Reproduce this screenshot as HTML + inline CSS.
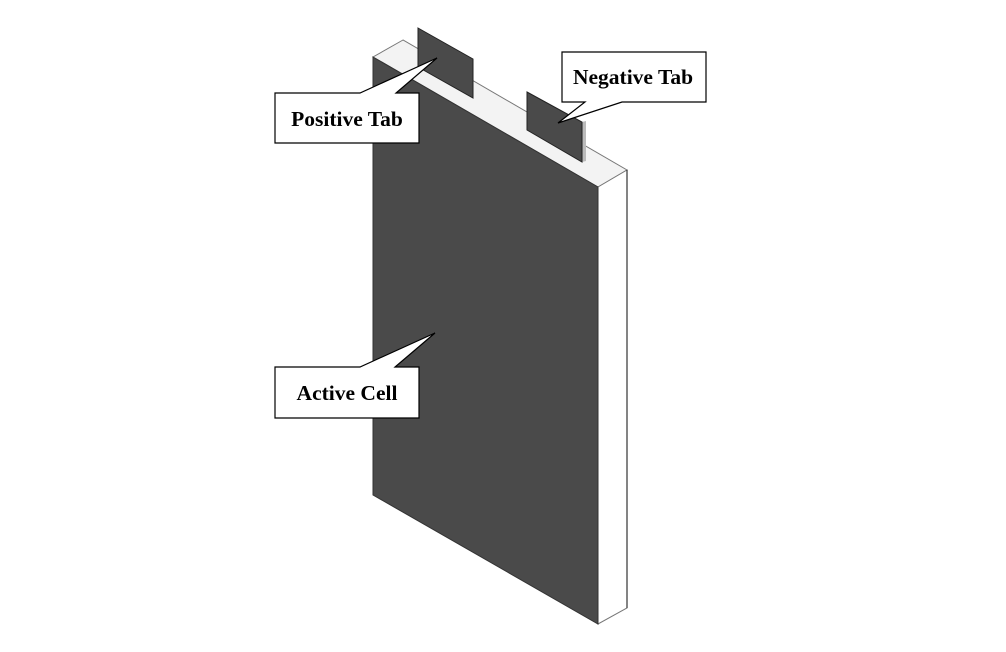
<!DOCTYPE html>
<html><head><meta charset="utf-8"><style>
html,body{margin:0;padding:0;background:#fff;}
svg{display:block}
text{font-family:"Liberation Serif",serif;font-weight:bold;font-size:21.5px;fill:#000}
</style></head><body>
<svg width="1006" height="652" viewBox="0 0 1006 652">
<polygon points="403,40 373,57 598,187 627,170" fill="#f3f3f3" stroke="#777" stroke-width="1"/>
<polygon points="598,187 627,170 627,608 598,624" fill="#fff" stroke="#777" stroke-width="1"/>
<line x1="627" y1="170" x2="627" y2="608" stroke="#333" stroke-width="1.2"/>
<polygon points="373,57 598,187 598,624 373,495" fill="#4a4a4a" stroke="#333" stroke-width="1"/>
<polygon points="418,28 473,59 473,98 418,67" fill="#4a4a4a" stroke="#222" stroke-width="1"/>
<polygon points="582,122 586,121 586,161 582,162" fill="#bbb"/>
<polygon points="527,92 582,122 582,162 527,130" fill="#4a4a4a" stroke="#222" stroke-width="1"/>
<polygon points="275,93 360,93 437,58 396,93 419,93 419,143 275,143" fill="#fff" stroke="#000" stroke-width="1.2"/>
<text x="347" y="126" text-anchor="middle">Positive Tab</text>
<polygon points="562,52 706,52 706,102 622,102 558,123 585,102 562,102" fill="#fff" stroke="#000" stroke-width="1.2"/>
<text x="633" y="84" text-anchor="middle">Negative Tab</text>
<polygon points="275,367 360,367 435,333 395,367 419,367 419,418 275,418" fill="#fff" stroke="#000" stroke-width="1.2"/>
<text x="347" y="400" text-anchor="middle">Active Cell</text>
</svg>
</body></html>
